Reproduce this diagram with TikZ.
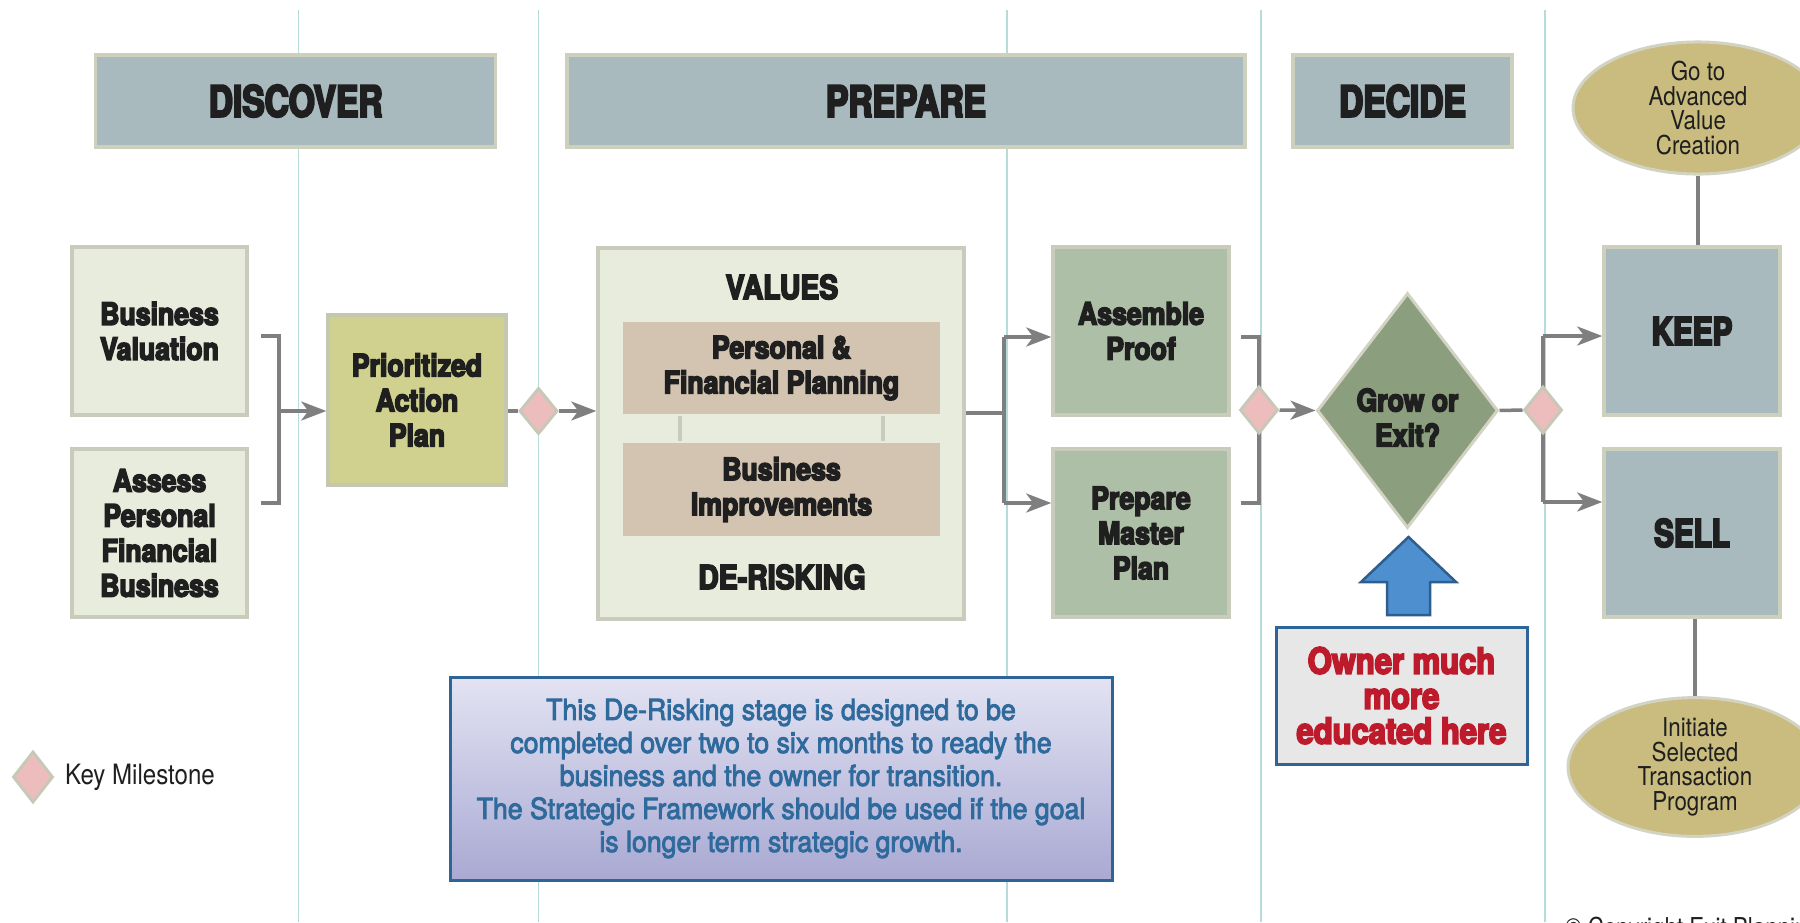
\documentclass[tikz,border=0pt]{standalone}
\usepackage{fontspec}
\setmainfont{TeX Gyre Heros}[FakeStretch=0.86, BoldFeatures={FakeBold=5}]
\newfontfamily\hdrfont{TeX Gyre Heros}[FakeStretch=0.78, BoldFeatures={FakeBold=5}]
\newfontfamily\notefont{TeX Gyre Heros}[FakeStretch=0.92, FakeBold=3]
\usetikzlibrary{shapes.geometric,arrows.meta,calc}
\definecolor{hdrfill}{HTML}{A9BABF}
\definecolor{hdrborder}{HTML}{CDD0BD}
\definecolor{lightfill}{HTML}{E8ECDC}
\definecolor{lightborder}{HTML}{C9CCBC}
\definecolor{priofill}{HTML}{D0D18E}
\definecolor{priob}{HTML}{C5C8B0}
\definecolor{tanfill}{HTML}{D3C4B2}
\definecolor{sagefill}{HTML}{AEBFA8}
\definecolor{growfill}{HTML}{8B9F7E}
\definecolor{khaki}{HTML}{C9BC7E}
\definecolor{khakib}{HTML}{D2D3C2}
\definecolor{pink}{HTML}{EDBDBD}
\definecolor{pinkb}{HTML}{C8C8B8}
\definecolor{conn}{HTML}{7F7F7F}
\definecolor{guide}{HTML}{B4DCDB}
\definecolor{blueup}{HTML}{4E8FD0}
\definecolor{bluedark}{HTML}{2D5E8E}
\definecolor{boxblue}{HTML}{2E6596}
\definecolor{redtxt}{HTML}{BD1A2B}
\definecolor{notetxt}{HTML}{2F6A9C}
\definecolor{txt}{HTML}{1F1F1F}
\definecolor{ownfill}{HTML}{E7E7E7}
\definecolor{notetop}{HTML}{E3E3F3}
\definecolor{notebot}{HTML}{A9A9D3}
\pgfdeclarelayer{bg}
\pgfdeclarelayer{links}
\pgfsetlayers{bg,links,main}
\begin{document}
\begin{tikzpicture}[x=1pt,y=-1pt,
  guideline/.style={draw=guide, line width=1.6pt},
  hdr/.style={draw=hdrborder, line width=3.5pt, fill=hdrfill, inner sep=0pt, text=txt,
    minimum height=92pt, font=\hdrfont\bfseries\fontsize{43}{48}\selectfont},
  bigbox/.style={draw=hdrborder, line width=3.5pt, fill=hdrfill, inner sep=0pt, text=txt,
    minimum width=176pt, minimum height=168pt, font=\hdrfont\bfseries\fontsize{38}{42}\selectfont},
  txtbox/.style={line width=3.5pt, inner sep=0pt, align=center, text=txt,
    font=\bfseries\fontsize{31}{35}\selectfont},
  lightbox/.style={txtbox, draw=lightborder, fill=lightfill, minimum width=175pt, minimum height=168pt},
  priobox/.style={txtbox, draw=priob, fill=priofill, minimum width=178pt, minimum height=170pt},
  sagebox/.style={txtbox, draw=lightborder, fill=sagefill, minimum width=176pt, minimum height=168pt},
  tanbox/.style={txtbox, fill=tanfill, minimum width=317pt, minimum height=92pt},
  title/.style={inner sep=0pt, text=txt, font=\bfseries\fontsize{33}{37}\selectfont},
  mile/.style={shape=diamond, draw=pinkb, fill=pink, line width=3pt, inner sep=0pt,
    minimum width=38pt, minimum height=46pt},
  oval/.style={shape=ellipse, draw=khakib, fill=khaki, line width=3pt, inner sep=0pt, align=center,
    text=txt, minimum width=250pt, minimum height=130pt, font=\fontsize{26}{24.5}\selectfont},
  link/.style={draw=conn, line width=3.5pt},
  arr/.style={link, -{Stealth[length=25pt,width=19pt,inset=7pt]}},
  innerlink/.style={draw=lightborder, line width=4pt}
]
\useasboundingbox (0,0) rectangle (1800,922);
\begin{pgfonlayer}{bg}
\clip (0,0) rectangle (1800,922);
\fill[white] (0,0) rectangle (1800,922);
\foreach \gx in {298.5,538.5,1007,1261,1545}
  \draw[guideline] (\gx,10) -- (\gx,922);
\end{pgfonlayer}
\clip (0,0) rectangle (1800,922);

% headers
\node[hdr, minimum width=400pt] (disc) at (295.7,101) {DISCOVER};
\node[hdr, minimum width=678pt] (prep) at (906,101) {PREPARE};
\node[hdr, minimum width=219pt] (deci) at (1402.5,101) {DECIDE};

% discover
\node[lightbox] (busval) at (159.5,331) {Business\\Valuation};
\node[lightbox] (assess) at (159.5,533) {Assess\\Personal\\Financial\\Business};
\node[priobox] (prio) at (417,400) {Prioritized\\Action\\Plan};

% prepare
\node[lightbox, minimum width=366pt, minimum height=371pt] (values) at (781,433.5) {};
\node[title] (valt) at (782,287) {VALUES};
\node[title] (dert) at (782,577) {DE-RISKING};
\node[tanbox] (pfp) at (781.5,368) {Personal \&\\Financial Planning};
\node[tanbox, minimum height=93pt] (bimp) at (781.5,489.5) {Business\\Improvements};
\draw[innerlink] ($(pfp.south west)!0.184!(pfp.south east)$) -- ($(bimp.north west)!0.184!(bimp.north east)$);
\draw[innerlink] ($(pfp.south west)!0.816!(pfp.south east)$) -- ($(bimp.north west)!0.816!(bimp.north east)$);
\node[sagebox] (asm) at (1141,331) {Assemble\\Proof};
\node[sagebox] (pmp) at (1141,533) {Prepare\\Master\\Plan};

% decide
\node[shape=diamond, draw=khakib, fill=growfill, line width=3pt, inner sep=0pt,
  minimum width=181pt, minimum height=235pt] (grow) at (1407.5,410.5) {};
\node[align=center, inner sep=0pt, text=txt, font=\bfseries\fontsize{31}{35}\selectfont]
  (growt) at ($(grow.center)+(0,7)$) {Grow or\\Exit?};
\node[draw=boxblue, fill=ownfill, line width=3pt, inner sep=0pt, align=center, text=redtxt,
  minimum width=251pt, minimum height=137pt,
  font=\bfseries\fontsize{36}{35}\selectfont] (owner) at (1401.5,695.5) {Owner much\\more\\educated here};
\draw[draw=bluedark, fill=blueup, line width=2.5pt, line join=miter]
  (1408.5,537) -- (1456,582) -- (1430,582) -- (1430,615) -- (1387,615) -- (1387,582) -- (1361,582) -- cycle;

% outcomes
\node[bigbox] (keep) at (1692,331) {KEEP};
\node[bigbox] (sell) at (1692,533) {SELL};
\node[oval] (e1) at (1698,108) {Go to\\Advanced\\Value\\Creation};
\node[oval, minimum width=254pt] (e2) at (1695,767) {Initiate\\Selected\\Transaction\\Program};

% milestones
\node[mile] (m1) at (538.5,411) {};
\node[mile, minimum height=47pt] (m2) at (1259,410) {};
\node[mile, minimum height=47pt] (m3) at (1543,410) {};
\node[mile, minimum width=40pt, minimum height=51pt] (mk) at (33,777) {};
\node[anchor=west, inner sep=0pt, text=txt, font=\fontsize{28}{32}\selectfont] (mkt) at (65,777) {Key Milestone};

% note
\node[draw=boxblue, line width=3pt, top color=notetop, bottom color=notebot, inner sep=0pt,
  align=center, text=notetxt, minimum width=662pt, minimum height=203pt,
  font=\notefont\fontsize{29}{33}\selectfont] (note) at (781,778.5)
  {This De-Risking stage is designed to be\\
   completed over two to six months to ready the\\
   business and the owner for transition.\\
   The Strategic Framework should be used if the goal\\
   is longer term strategic growth.};

% copyright
\node[anchor=base west, inner sep=0pt, text=txt, font=\fontsize{26}{30}\selectfont] (copy) at (1565,936) {© Copyright Exit Planning};

% connectors
\begin{pgfonlayer}{links}
\coordinate (b1t) at (279,336);
\coordinate (b1b) at (279,503);
\coordinate (j1) at (279,411);
\draw[link] (b1t -| 261,0) -- (b1t) -- (b1b) -- (b1b -| 261,0);
\draw[arr] (j1) -- (j1 -| prio.west);
\draw[link] (prio.east |- m1) -- (m1.west);
\draw[arr] (m1.east) -- (m1.east -| values.west);
\coordinate (j2) at (1004,413);
\coordinate (j2t) at (1004,337);
\coordinate (j2b) at (1004,503);
\draw[link] (values.east |- j2) -- (j2);
\draw[link] (j2t) -- (j2b);
\draw[arr] (j2t) -- (j2t -| asm.west);
\draw[arr] (j2b) -- (j2b -| pmp.west);
\coordinate (b2t) at (1259,337);
\coordinate (b2b) at (1259,503);
\draw[link] (b2t -| 1241,0) -- (b2t) -- (b2b) -- (b2b -| 1241,0);
\draw[arr] (m2.east) -- (grow.west);
\draw[link] (grow.east) -- (m3.west);
\coordinate (j3t) at (1543,336);
\coordinate (j3b) at (1543,502);
\draw[link] (j3t) -- (j3b);
\draw[arr] (j3t) -- (j3t -| keep.west);
\draw[arr] (j3b) -- (j3b -| sell.west);
\draw[link] (e1.south) -- (e1.south |- keep.north);
\draw[link] (e2.north |- sell.south) -- (e2.north);
\end{pgfonlayer}
\end{tikzpicture}
\end{document}
